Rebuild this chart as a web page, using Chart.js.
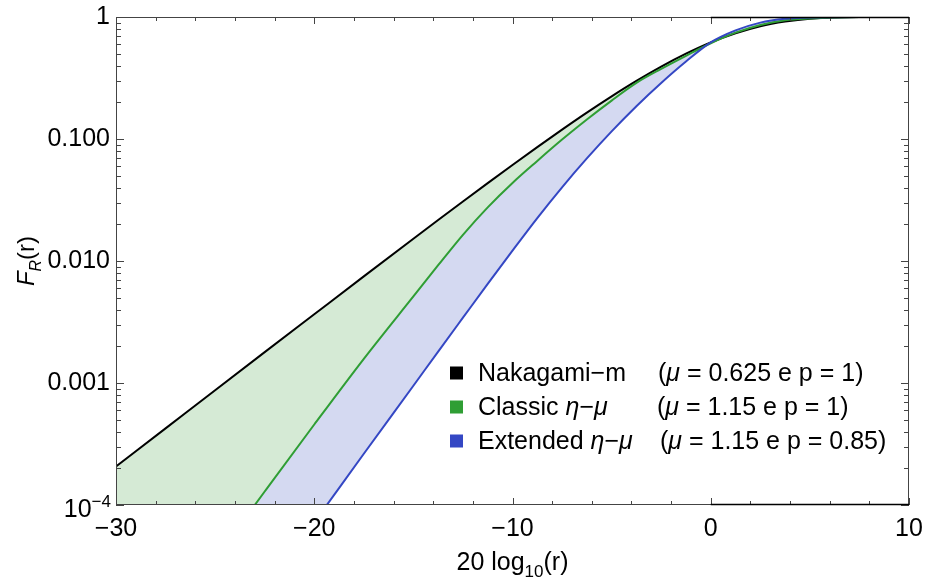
<!DOCTYPE html>
<html><head><meta charset="utf-8">
<script src="https://cdn.jsdelivr.net/npm/chart.js@4"></script>
<style>html,body{margin:0;padding:0;background:#fff}canvas{display:block}</style>
</head><body>
<canvas id="c" width="927" height="581"></canvas>
<script>
// ---- data ----
const xDb = [-30, -27.5, -25, -22.5, -20, -17.5, -15, -13.75, -12.5, -11.25, -10, -8.75, -7.5, -6.25, -5, -3.75, -2.5, -1.25, 0, 1.25, 2.5, 3.75, 5, 7.5, 10];
const nakagami = [2.07e-4, 4.25e-4, 8.73e-4, 1.79e-3, 3.66e-3, 7.48e-3, 0.01522, 0.02165, 0.03072, 0.04346, 0.06124, 0.0858, 0.1193, 0.1644, 0.2235, 0.2990, 0.3917, 0.5000, 0.6185, 0.7356, 0.8411, 0.918, 0.9683, 0.9984, 0.99999];
const classicEtaMu = [2.8e-6, 1.0e-5, 3.6e-5, 1.29e-4, 4.57e-4, 1.58e-3, 5.13e-3, 9.23e-3, 0.0164, 0.02754, 0.04365, 0.0661, 0.0989, 0.1445, 0.2065, 0.2884, 0.3758, 0.4808, 0.6095, 0.7447, 0.861, 0.9419, 0.973, 0.998, 1.0];
const extendedEtaMu = [4.1e-7, 1.48e-6, 5.4e-6, 2.0e-5, 7.2e-5, 2.63e-4, 9.5e-4, 1.81e-3, 3.43e-3, 6.49e-3, 0.01216, 0.02249, 0.0402, 0.0693, 0.1155, 0.1858, 0.2880, 0.4315, 0.6194, 0.7762, 0.8995, 0.966, 0.9908, 0.9998, 1.0];

const xTickValues = [-30, -28, -26, -24, -22, -20, -18, -16, -14, -12, -10, -8, -6, -4, -2, 0, 2, 4, 6, 8, 10];
const xMajorValues = [-30, -20, -10, 0, 10];
const xMajorLabels = ['\u221230', '\u221220', '\u221210', '0', '10'];
const yTickValues = [1e-4, 2e-4, 3e-4, 4e-4, 5e-4, 6e-4, 7e-4, 8e-4, 9e-4,
                     1e-3, 2e-3, 3e-3, 4e-3, 5e-3, 6e-3, 7e-3, 8e-3, 9e-3,
                     0.01, 0.02, 0.03, 0.04, 0.05, 0.06, 0.07, 0.08, 0.09,
                     0.1, 0.2, 0.3, 0.4, 0.5, 0.6, 0.7, 0.8, 0.9, 1];
const yMajorValues = [1e-4, 1e-3, 0.01, 0.1, 1];
const yMajorLabels = ['', '0.001', '0.010', '0.100', '1'];

const legendNames = [
  [['Nakagami\u2212m', 'n']],
  [['Classic ', 'n'], ['\u03B7', 'i'], ['\u2212', 'n'], ['\u03BC', 'i']],
  [['Extended ', 'n'], ['\u03B7', 'i'], ['\u2212', 'n'], ['\u03BC', 'i']]
];
const legendParams = [
  [['(', 'n'], ['\u03BC', 'i'], [' = 0.625 e p = 1)', 'n']],
  [['(', 'n'], ['\u03BC', 'i'], [' = 1.15 e p = 1)', 'n']],
  [['(', 'n'], ['\u03BC', 'i'], [' = 1.15 e p = 0.85)', 'n']]
];

// ---- styles ----
const FONT = '"Liberation Sans", Arial, Helvetica, sans-serif';
const BLACK = '#000000';
const GREEN = '#2f9e34';
const BLUE = '#3447c4';
const GREEN_FILL = 'rgb(213,234,213)';
const BLUE_FILL = 'rgb(212,217,241)';
const FS = 25;

function near(a, b) { return Math.abs(a - b) <= Math.abs(b) * 1e-6; }

function runFont(style, size) {
  return (style === 'i' ? 'italic ' : '') + size + 'px ' + FONT;
}
function runProps(s, size) {
  const sub = (s === 'sub' || s === 'isub');
  return { sz: sub ? Math.round(size * 0.68) : size, dy: sub ? size * 0.28 : 0, it: (s === 'i' || s === 'isub') };
}
function drawRuns(ctx, x, y, runs, size) {
  for (const [t, s] of runs) {
    const p = runProps(s, size);
    ctx.font = runFont(p.it ? 'i' : 'n', p.sz);
    ctx.fillText(t, x, y + p.dy);
    x += ctx.measureText(t).width;
  }
  return x;
}
function runsWidth(ctx, runs, size) {
  let w = 0;
  for (const [t, s] of runs) {
    const p = runProps(s, size);
    ctx.font = runFont(p.it ? 'i' : 'n', p.sz);
    w += ctx.measureText(t).width;
  }
  return w;
}

const framePlugin = {
  id: 'frame',
  afterDatasetsDraw(chart) {
    const { ctx, chartArea: a, scales } = chart;
    const xs = scales.x, ys = scales.y;
    ctx.save();
    ctx.strokeStyle = '#444';
    ctx.lineWidth = 1;
    ctx.strokeRect(a.left + 0.5, a.top + 0.5, a.right - a.left - 1, a.bottom - a.top - 1);
    ctx.beginPath();
    for (const t of ys.ticks) {
      const py = Math.round(ys.getPixelForValue(t.value)) + 0.5;
      const major = yMajorValues.some(v => near(t.value, v));
      const len = major ? 8 : 5;
      ctx.moveTo(a.left, py); ctx.lineTo(a.left + len, py);
      ctx.moveTo(a.right, py); ctx.lineTo(a.right - len, py);
    }
    for (const t of xs.ticks) {
      const px = Math.round(xs.getPixelForValue(t.value)) + 0.5;
      const major = xMajorValues.includes(t.value);
      const len = major ? 7 : 4;
      ctx.moveTo(px, a.bottom); ctx.lineTo(px, a.bottom - len);
      ctx.moveTo(px, a.top); ctx.lineTo(px, a.top + len);
    }
    ctx.stroke();
    // darker segments along the frame from 0 dB to 10 dB
    ctx.beginPath();
    ctx.strokeStyle = '#000';
    ctx.lineWidth = 1.5;
    const x0 = xs.getPixelForValue(0), x1 = xs.getPixelForValue(10);
    ctx.moveTo(x0, a.bottom - 0.5); ctx.lineTo(x1, a.bottom - 0.5);
    ctx.moveTo(x0, a.top + 0.5); ctx.lineTo(x1, a.top + 0.5);
    ctx.stroke();
    ctx.restore();
  },
  afterDraw(chart) {
    const { ctx, chartArea: a, scales } = chart;
    ctx.save();
    ctx.fillStyle = '#000';
    ctx.textBaseline = 'alphabetic';
    // 10^-4 label
    const py4 = scales.y.getPixelForValue(1e-4);
    ctx.font = '17px ' + FONT;
    const supW = ctx.measureText('\u22124').width;
    const rx = a.left - 5;
    ctx.textAlign = 'right';
    ctx.fillText('\u22124', rx, py4 + 2);
    ctx.font = FS + 'px ' + FONT;
    ctx.fillText('10', rx - supW, py4 + 12);
    ctx.textAlign = 'left';

    // x title
    const xRuns = [['20 log', 'n'], ['10', 'sub'], ['(r)', 'n']];
    const xw = runsWidth(ctx, xRuns, FS);
    drawRuns(ctx, (a.left + a.right) / 2 - xw / 2, 570, xRuns, FS);

    // y title
    const yRuns = [['F', 'i'], ['R', 'isub'], ['(r)', 'n']];
    const yw = runsWidth(ctx, yRuns, 24);
    ctx.save();
    ctx.translate(34, (a.top + a.bottom) / 2);
    ctx.rotate(-Math.PI / 2);
    drawRuns(ctx, -yw / 2, 0, yRuns, 24);
    ctx.restore();

    // legend
    const colors = [BLACK, GREEN, BLUE];
    const rowY = [373, 407, 441];
    const paramX = [658, 657, 660];
    ctx.textBaseline = 'middle';
    for (let i = 0; i < 3; i++) {
      ctx.fillStyle = colors[i];
      ctx.fillRect(450, rowY[i] - 6.5, 13, 13);
      ctx.fillStyle = '#000';
      drawRuns(ctx, 478, rowY[i] + 1, legendNames[i], FS);
      drawRuns(ctx, paramX[i], rowY[i] + 1, legendParams[i], FS);
    }
    ctx.restore();
  }
};

const pts = arr => xDb.map((x, i) => ({ x: x, y: arr[i] }));

new Chart(document.getElementById('c').getContext('2d'), {
  type: 'line',
  data: {
    datasets: [
      { label: 'Nakagami-m', data: pts(nakagami), borderColor: BLACK, borderWidth: 2, pointRadius: 0,
        fill: false, order: 2, cubicInterpolationMode: 'monotone' },
      { label: 'Classic eta-mu', data: pts(classicEtaMu), borderColor: GREEN, borderWidth: 2, pointRadius: 0,
        fill: { target: 0, above: GREEN_FILL, below: GREEN_FILL }, backgroundColor: GREEN_FILL, order: 1, cubicInterpolationMode: 'monotone' },
      { label: 'Extended eta-mu', data: pts(extendedEtaMu), borderColor: BLUE, borderWidth: 2, pointRadius: 0,
        fill: { target: 1, above: BLUE_FILL, below: BLUE_FILL }, backgroundColor: BLUE_FILL, order: 0, cubicInterpolationMode: 'monotone' }
    ]
  },
  options: {
    responsive: false,
    animation: false,
    events: [],
    layout: { padding: { left: 0, top: 17, right: 18, bottom: 0 } },
    plugins: {
      legend: { display: false },
      tooltip: { enabled: false },
      filler: { drawTime: 'beforeDatasetsDraw' }
    },
    scales: {
      x: {
        type: 'linear', min: -30, max: 10,
        afterBuildTicks: s => { s.ticks = xTickValues.map(v => ({ value: v })); },
        afterFit: s => { s.height = 76; s.paddingLeft = 0; s.paddingRight = 0; },
        grid: { display: false, drawTicks: false },
        border: { display: false },
        ticks: {
          autoSkip: false, maxRotation: 0, padding: 9, color: '#000',
          font: { size: FS, family: FONT },
          callback: v => { const k = xMajorValues.indexOf(v); return k >= 0 ? xMajorLabels[k] : ''; }
        }
      },
      y: {
        type: 'logarithmic', min: 1e-4, max: 1,
        afterBuildTicks: s => { s.ticks = yTickValues.map(v => ({ value: v })); },
        afterFit: s => { s.width = 116; s.paddingTop = 0; s.paddingBottom = 0; },
        grid: { display: false, drawTicks: false },
        border: { display: false },
        ticks: {
          autoSkip: false, padding: 6, color: '#000',
          font: { size: FS, family: FONT },
          callback: v => { const k = yMajorValues.findIndex(m => near(v, m)); return k >= 0 ? yMajorLabels[k] : ''; }
        }
      }
    }
  },
  plugins: [framePlugin]
});
</script>
</body></html>
